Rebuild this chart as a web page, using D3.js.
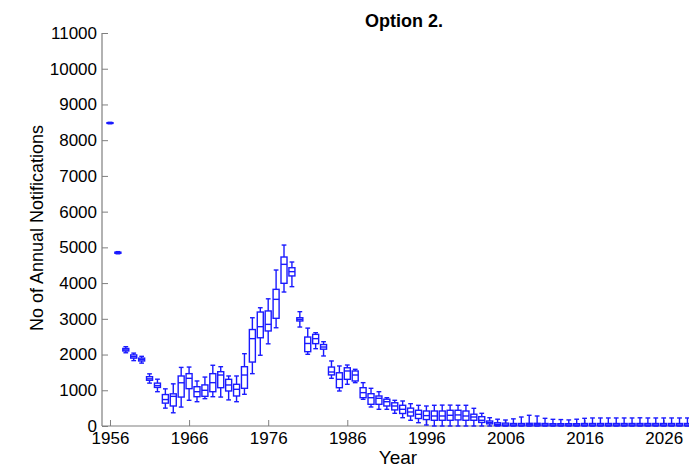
<!DOCTYPE html>
<html>
<head>
<meta charset="utf-8">
<script src="https://cdn.jsdelivr.net/npm/d3@7"></script>
<style>
  html, body { margin: 0; padding: 0; background: #fff; }
  svg { display: block; }
  text { font-family: "Liberation Sans", Arial, sans-serif; }
</style>
</head>
<body>
<svg id="chart" width="689" height="467"></svg>
<script>
// ---- data ----
const years = d3.range(1956, 2030);
const whiskerLow = [8460,4820,2050,1830,1760,1200,960,500,370,530,720,680,765,820,810,730,680,887,1465,1980,2300,2750,3750,3900,2770,2007,2164,1960,1335,980,1167,1213,747,532,467,467,355,232,160,92,28,0,0,0,0,0,0,0,0,0,0,0,0,0,0,0,0,0,0,0,0,0,0,0,0,0,0,0,0,0,0,0,0,0];
const q1 = [8470,4835,2100,1900,1820,1280,1080,640,560,810,1045,820,830,960,1072,980,840,1055,1790,2470,2660,3014,3994,4200,2940,2080,2305,2150,1430,1072,1306,1260,792,607,607,560,450,350,280,210,180,160,160,160,170,160,160,100,60,10,5,5,5,5,5,5,5,5,5,5,5,5,5,5,5,5,5,5,5,5,5,5,5,5];
const medians = [8480,4850,2130,1940,1860,1320,1130,740,830,1210,1335,960,1000,1213,1427,1148,1027,1427,2445,2780,2845,3545,4525,4320,2985,2310,2445,2211,1511,1306,1540,1427,933,792,775,680,560,467,392,327,290,280,280,300,310,280,252,160,93,47,30,30,30,35,35,30,30,30,30,30,30,30,30,30,30,30,30,30,30,30,30,30,30,30];
const q3 = [8490,4865,2170,1990,1900,1380,1200,880,900,1400,1465,1100,1150,1465,1520,1306,1167,1660,2700,3190,3220,3825,4730,4430,3030,2490,2565,2280,1650,1490,1630,1540,1072,904,840,750,650,580,500,440,420,420,420,440,440,420,330,260,140,90,80,70,70,75,75,70,65,65,65,65,70,70,70,70,70,70,70,70,70,70,70,70,70,70];
const whiskerHigh = [8500,4880,2220,2040,1950,1460,1310,1040,1180,1640,1650,1260,1370,1700,1660,1400,1400,2024,3030,3310,3560,4366,5065,4590,3200,2740,2612,2360,1820,1680,1707,1587,1213,1055,960,792,719,700,624,579,560,580,585,585,580,580,495,355,232,190,168,200,252,300,280,215,187,180,170,190,215,225,225,225,225,225,225,230,225,225,225,225,225,225];
const yTicks = [0,1000,2000,3000,4000,5000,6000,7000,8000,9000,10000,11000];
const xTicks = [1956,1966,1976,1986,1996,2006,2016,2026];

const rows = years.map((yr, i) => ({
  year: yr, lo: whiskerLow[i], q1: q1[i], med: medians[i], q3: q3[i], hi: whiskerHigh[i]
}));

// ---- layout ----
const svg = d3.select("#chart");
const x = d3.scaleLinear().domain([1954.99, 2029.2]).range([102, 689]);
const y = d3.scaleLinear().domain([0, 11000]).range([426, 33]);
const blue = "#1a1aff";
const axisColor = "#7f7f7f";

// axes
const gy = svg.append("g").attr("transform", "translate(102,0)")
  .call(d3.axisLeft(y).tickValues(yTicks).tickFormat(d3.format("d"))
    .tickSizeInner(-6).tickSizeOuter(0).tickPadding(5));
const gx = svg.append("g").attr("transform", "translate(0,426)")
  .call(d3.axisBottom(x).tickValues(xTicks).tickFormat(d3.format("d"))
    .tickSizeInner(-6).tickSizeOuter(0).tickPadding(6));
[gy, gx].forEach(g => {
  g.select(".domain").attr("stroke", axisColor).attr("stroke-width", 1.2);
  g.selectAll(".tick line").attr("stroke", axisColor).attr("stroke-width", 1);
  g.selectAll(".tick text").attr("fill", "#000")
    .style("font-family", "'Liberation Sans', Arial, sans-serif").style("font-size", "17px");
});
gy.select(".domain").attr("d", `M0,${y(11000)}V${y(0)}`);
gx.select(".domain").attr("d", `M${102},0H689`);

// boxes
const step = x(1) - x(0);
const bw = step * 0.76;
const cw = step * 0.6;
const g = svg.append("g").attr("fill", "none").attr("stroke", blue).attr("stroke-width", 1.4);
const b = g.selectAll("g.box").data(rows).join("g").attr("class", "box");
b.append("line").attr("x1", d => x(d.year)).attr("x2", d => x(d.year))
  .attr("y1", d => y(d.hi)).attr("y2", d => y(d.q3));
b.append("line").attr("x1", d => x(d.year)).attr("x2", d => x(d.year))
  .attr("y1", d => y(d.q1)).attr("y2", d => y(d.lo));
b.append("line").attr("x1", d => x(d.year) - cw / 2).attr("x2", d => x(d.year) + cw / 2)
  .attr("y1", d => y(d.hi)).attr("y2", d => y(d.hi));
b.append("line").attr("x1", d => x(d.year) - cw / 2).attr("x2", d => x(d.year) + cw / 2)
  .attr("y1", d => y(d.lo)).attr("y2", d => y(d.lo));
b.append("rect").attr("x", d => x(d.year) - bw / 2).attr("width", bw)
  .attr("y", d => y(d.q3)).attr("height", d => Math.max(0.5, y(d.q1) - y(d.q3)))
  .attr("fill", "#fff");
b.append("line").attr("x1", d => x(d.year) - bw / 2).attr("x2", d => x(d.year) + bw / 2)
  .attr("y1", d => y(d.med)).attr("y2", d => y(d.med));

// titles
svg.append("text").attr("x", 404).attr("y", 27).attr("text-anchor", "middle")
  .style("font-size", "18px").style("font-weight", "bold").text("Option 2.");
svg.append("text").attr("x", 398).attr("y", 464).attr("text-anchor", "middle")
  .style("font-size", "19px").text("Year");
svg.append("text").attr("transform", "translate(43,228) rotate(-90)").attr("text-anchor", "middle")
  .style("font-size", "18px").text("No of Annual Notifications");
</script>
</body>
</html>
